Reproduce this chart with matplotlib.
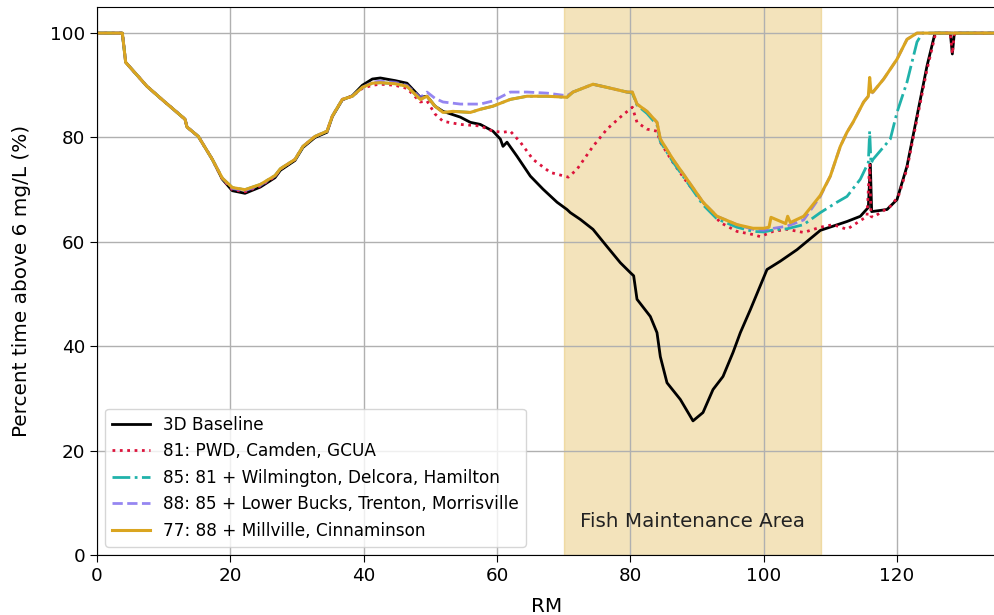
import matplotlib
matplotlib.use("Agg")
import matplotlib.pyplot as plt

# 3D baseline run
rm_base = [0, 3.8, 4.3, 7.5, 10, 13.2, 13.5, 15.2, 17.3, 18.8, 20.3, 22.2, 24.5, 26.7, 27.5,
           29.7, 30.9, 32.7, 34.5, 35.3, 36.8, 38.3, 39.8, 41.3, 42.5, 44.7, 46.5, 48.5, 49.5,
           50.7, 51.9, 54.5, 56, 57.5, 59.4, 60.5, 60.9, 61.5, 63, 65, 66.9, 69, 70.5, 71,
           72.5, 74.4, 76.5, 78.5, 80, 80.5, 81, 83, 84, 84.5, 85.5, 87.5, 89.4, 90.9, 92.4,
           93.9, 95.4, 96.5, 98, 100.5, 102.5, 105, 108.5, 112.5, 114.5, 115.7, 116.0, 116.2,
           118.5, 120, 121.5, 123, 124.5, 125.7, 128.0, 128.3, 128.6, 135]
pct_base = [100, 100, 94.4, 89.8, 87.0, 83.5, 82.0, 80.2, 75.8, 72.0, 69.8, 69.3, 70.5, 72.3, 73.7,
            75.6, 78.1, 80.0, 81.0, 84.0, 87.2, 88.0, 90.0, 91.2, 91.4, 90.9, 90.4, 87.7, 87.9,
            86.0, 85.0, 83.9, 82.9, 82.5, 81.2, 79.7, 78.3, 79.1, 76.4, 72.6, 70.1, 67.6, 66.2, 65.6,
            64.3, 62.4, 59.1, 56.0, 54.1, 53.5, 49.0, 45.7, 42.6, 38.0, 33.0, 29.8, 25.7, 27.3, 31.7,
            34.2, 38.8, 42.6, 47.0, 54.7, 56.3, 58.5, 62.2, 63.9, 64.9, 66.6, 74.9, 65.8,
            66.2, 68.1, 74.5, 84.1, 93.7, 100, 100, 96, 100, 100]

# scenario 81
rm_81 = [0, 3.8, 4.3, 7.5, 10, 13.2, 13.5, 15.2, 17.3, 18.8, 20.3, 22.2, 24.5, 26.7, 27.5,
         29.7, 30.9, 32.7, 34.5, 35.3, 36.8, 38.3, 39.8, 41.3, 42.5, 44.7, 46.5, 48.5, 49.5,
         50.7, 51.9, 54.5, 57.5, 59.4, 60.9, 62, 63.5, 65.4, 68, 70.7, 72, 74.4, 76.5, 78.5,
         80.3, 81, 82.5, 84, 84.5, 86.4, 88.5, 90.9, 93.5, 96, 98.4, 99.5, 101.4, 103.5, 106,
         108.5, 110.4, 112.5, 115.5, 115.9, 116.1, 116.4, 119, 120.2, 121.5, 123, 124.5, 125.8,
         128.0, 128.3, 128.6, 135]
pct_81 = [100, 100, 94.4, 89.8, 87.0, 83.5, 82.0, 80.2, 75.8, 72.0, 70.0, 69.6, 70.7, 72.5, 73.9,
          75.8, 78.3, 80.2, 81.2, 84.1, 87.3, 87.9, 89.4, 90.0, 90.2, 90.0, 89.4, 86.8, 87.0,
          84.5, 83.1, 82.5, 82.2, 81.2, 81.0, 81.2, 79.1, 75.8, 73.3, 72.4, 73.9, 78.3, 81.6, 83.9,
          85.8, 82.9, 81.6, 81.2, 79.1, 75.2, 71.4, 67.6, 63.7, 62.0, 61.4, 61.0, 62.0, 62.4, 61.8,
          62.8, 63.3, 62.4, 64.9, 74.9, 64.9, 64.7, 66.8, 68.7, 74.0, 83.5, 93.0, 100,
          100, 96, 100, 100]

# scenario 85
rm_85 = [0, 3.8, 4.3, 7.5, 10, 13.2, 13.5, 15.2, 17.3, 18.8, 20.3, 22.2, 24.5, 26.7, 27.5,
         29.7, 30.9, 32.7, 34.5, 35.3, 36.8, 38.3, 39.8, 41.3, 42.5, 44.7, 46.5, 48.5, 49.5,
         50.7, 51.9, 53.4, 56, 57.5, 59.4, 62, 64.5, 67.5, 70.5, 71.4, 74.4, 76.5, 79.5, 80.3,
         81, 82.5, 84, 84.5, 86.4, 88.5, 90.9, 93, 96, 98.4, 100, 101.5, 103.5, 106, 108.5, 111,
         112.5, 114.5, 115.7, 115.9, 116.1, 116.4, 119, 120, 121.5, 123, 123.8, 135]
pct_85 = [100, 100, 94.4, 89.8, 87.0, 83.5, 82.0, 80.2, 75.8, 72.2, 70.4, 70.0, 71.0, 72.7, 74.0,
          75.8, 78.3, 80.2, 81.2, 84.1, 87.3, 87.9, 89.6, 90.4, 90.5, 90.3, 89.8, 87.3, 87.9,
          86.0, 84.8, 85.0, 84.8, 85.4, 86.0, 87.3, 87.9, 87.9, 87.7, 88.7, 90.2, 89.6, 88.7, 88.5,
          86.2, 84.6, 82.4, 79.2, 75.3, 71.5, 67.1, 64.4, 62.8, 62.0, 61.9, 62.3, 62.5, 63.3, 65.6, 67.6,
          68.7, 72.0, 75.2, 81.2, 75.0, 75.8, 79.7, 84.8, 90.6, 98.3, 100, 100]

# scenario 88
rm_88 = [0, 3.8, 4.3, 7.5, 10, 13.2, 13.5, 15.2, 17.3, 18.8, 20.3, 22.2, 24.5, 26.7, 27.5,
         29.7, 30.9, 32.7, 34.5, 35.3, 36.8, 38.3, 39.8, 41.3, 42.5, 44.7, 46.5, 48.5, 49.5,
         50.7, 51.9, 54.5, 57.5, 59.4, 62, 64.5, 67.5, 70.5, 71.4, 74.4, 76.5, 79.5, 80.3,
         81, 82.5, 84, 84.5, 86.4, 88.5, 90.9, 93, 96, 98.4, 100, 101.5, 103.5, 106, 108.5, 110,
         111.5, 112.5, 113.4, 115, 115.7, 116.4, 118, 120, 121.5, 123, 135]
pct_88 = [100, 100, 94.4, 89.8, 87.0, 83.5, 82.0, 80.2, 75.8, 72.2, 70.2, 69.8, 70.8, 72.6, 74.0,
          75.8, 78.3, 80.2, 81.2, 84.1, 87.3, 87.9, 89.6, 90.6, 90.8, 90.6, 90.0, 87.7, 88.7,
          87.5, 86.8, 86.4, 86.4, 87.0, 88.7, 88.7, 88.5, 88.0, 88.7, 90.2, 89.6, 88.7, 88.7,
          86.4, 85.0, 82.9, 79.7, 75.8, 72.0, 67.6, 64.9, 63.3, 62.4, 62.2, 62.6, 63.0, 64.2, 68.7, 72.6,
          78.3, 81.0, 82.9, 86.8, 87.9, 88.7, 91.2, 95.0, 98.8, 100, 100]

# scenario 77
rm_77 = [0, 3.8, 4.3, 7.5, 10, 13.2, 13.5, 15.2, 17.3, 18.8, 20.3, 22.2, 24.5, 26.7, 27.5,
         29.7, 30.9, 32.7, 34.5, 35.3, 36.8, 38.3, 39.8, 41.3, 42.5, 44.7, 46.5, 48.5, 49.5,
         50.7, 51.9, 53.4, 56, 57.5, 59.4, 62, 64.5, 67.5, 70.5, 71.4, 74.4, 76.5, 79.5, 80.3,
         81, 82.5, 84, 84.5, 86.4, 88.5, 90.9, 93, 96, 98.4, 100, 100.8, 101.1, 103.3, 103.6,
         104, 106, 108.5, 110, 111.5, 112.5, 113.4, 115, 115.7, 115.9, 116.1, 116.4, 118, 120,
         121.5, 123, 135]
pct_77 = [100, 100, 94.4, 89.8, 87.0, 83.5, 82.0, 80.2, 75.8, 72.2, 70.4, 70.0, 71.0, 72.7, 74.0,
          75.8, 78.3, 80.2, 81.2, 84.1, 87.3, 87.9, 89.6, 90.4, 90.5, 90.3, 89.8, 87.3, 87.9,
          86.0, 84.8, 85.0, 84.8, 85.4, 86.0, 87.3, 87.9, 87.9, 87.7, 88.7, 90.2, 89.6, 88.7, 88.7,
          86.4, 85.0, 82.9, 79.7, 75.8, 72.0, 67.6, 64.9, 63.3, 62.6, 62.6, 62.8, 64.7, 63.5, 64.9,
          63.7, 64.9, 68.9, 72.6, 78.3, 81.0, 82.9, 86.8, 87.9, 91.5, 88.7, 88.7, 91.2, 95.0,
          98.8, 100, 100]

fma_start, fma_end = 70, 108.6

fig = plt.figure(figsize=(9.94, 6.15), dpi=100)
ax = fig.add_axes([97/994, 60/615, 900/994, 548/615])

ax.axvspan(fma_start, fma_end, color='goldenrod', alpha=0.3, zorder=0)
ax.plot(rm_base, pct_base, color='k', ls='-', lw=2, label='3D Baseline')
ax.plot(rm_81, pct_81, color='crimson', ls=':', lw=2, label='81: PWD, Camden, GCUA')
ax.plot(rm_85, pct_85, color='lightseagreen', ls='-.', lw=2, label='85: 81 + Wilmington, Delcora, Hamilton')
ax.plot(rm_88, pct_88, color='mediumslateblue', ls='--', lw=2, alpha=0.8,
        label='88: 85 + Lower Bucks, Trenton, Morrisville')
ax.plot(rm_77, pct_77, color='goldenrod', ls='-', lw=2.2, label='77: 88 + Millville, Cinnaminson')

ax.text((fma_start + fma_end) / 2, 6.5, 'Fish Maintenance Area', ha='center', va='center',
        fontsize=14.3, color='#222222')

ax.set_xlim(0, 135)
ax.set_ylim(0, 105)
ax.set_xticks([0, 20, 40, 60, 80, 100, 120])
ax.set_yticks([0, 20, 40, 60, 80, 100])
ax.tick_params(labelsize=13.2, length=5)
ax.grid(True, color='#b0b0b0', lw=1)
ax.set_xlabel('RM', fontsize=14.4, labelpad=9)
ax.set_ylabel('Percent time above 6 mg/L (%)', fontsize=14.4)
ax.yaxis.set_label_coords(-0.073, 0.5)
ax.legend(loc='lower left', fontsize=12.2, handlelength=2.2)

fig.savefig('out.png', dpi=100)
